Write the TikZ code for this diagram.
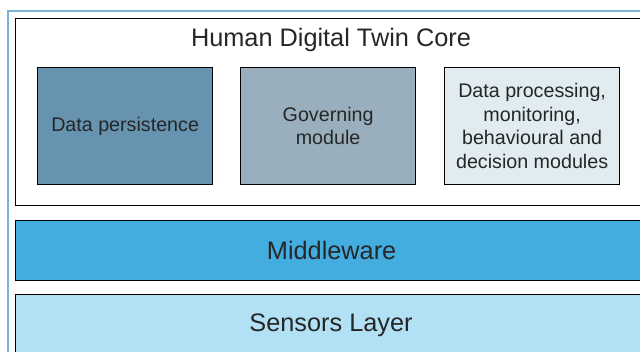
\documentclass[tikz,border=0pt]{standalone}
\usepackage{fontspec}
\setmainfont{Liberation Sans}
\usepackage{xcolor}

\definecolor{persistblue}{HTML}{6593B0}
\definecolor{governgrey}{HTML}{99AFBD}
\definecolor{procpale}{HTML}{E0ECF0}
\definecolor{middleblue}{HTML}{44ADE0}
\definecolor{sensorblue}{HTML}{B2E0F5}
\definecolor{frameblue}{HTML}{7AB4D8}

\tikzset{
    layer/.style={draw=black, line width=0.9pt, anchor=north west, inner sep=0pt,
        minimum width=632*0.025cm, text=black!85, font=\fontsize{18}{21}\selectfont},
    modulebox/.style={draw=black, line width=0.9pt, anchor=north west, inner sep=0pt,
        minimum width=175*0.025cm, minimum height=117*0.025cm, align=center,
        text=black!85, font=\fontsize{14}{16.8}\selectfont}
}

\begin{document}
\begin{tikzpicture}[x=0.025cm, y=-0.025cm]

        \useasboundingbox (0, 0) rectangle (640, 352);
        \clip (0, 0) rectangle (640, 352);

        \coordinate(F) at (8, 11);
        \coordinate(C) at (15, 18);
        \coordinate(M) at (15, 220);
        \coordinate(S) at (15, 294);

        \draw[frameblue, line width=1.1pt] (8, 400) -- (F) -- (700, 11);

        \node[layer, minimum height=187*0.025cm] (core) at (C) {};
        \node[text=black!85, font=\fontsize{18}{21}\selectfont] (title) at (331, 40) {Human Digital Twin Core};

        \node[modulebox, fill=persistblue] (persist) at (37, 67) {Data persistence};
        \node[modulebox, fill=governgrey] (govern) at (240, 67) {Governing\\module};
        \node[modulebox, fill=procpale] (proc) at (444, 67) {Data processing,\\monitoring,\\behavioural and\\decision modules};

        \node[layer, fill=middleblue, minimum height=60*0.025cm] (middle) at (M) {Middleware};
        \node[layer, fill=sensorblue, minimum height=120*0.025cm] (sensors) at (S) {};
        \node[text=black!85, font=\fontsize{18}{21}\selectfont] (sensorlabel) at (331, 325) {Sensors Layer};

    \end{tikzpicture}
\end{document}
